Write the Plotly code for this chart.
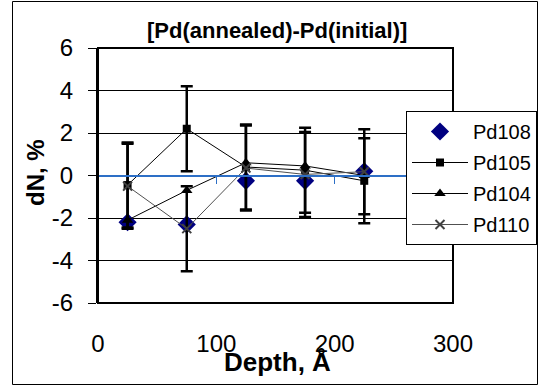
import plotly.graph_objects as go

depth = [25, 75, 125, 175, 225]
pd108 = [-2.2, -2.3, -0.25, -0.25, 0.2]
pd105 = [-0.45, 2.2, 0.4, 0.25, -0.25]
pd104 = [-2.1, -0.7, 0.6, 0.45, 0.0]
pd110 = [-0.5, -2.5, 0.35, 0.05, 0.18]
err105 = [2, 2, 2, 2, 2]
err110 = [2, 2, 2, 2, 2]
x_ticks = [0, 100, 200, 300]
y_ticks = [-6, -4, -2, 0, 2, 4, 6]
y_labels = ["-6", "-4", "-2", "0", "2", "4", "6"]

FONT = "Liberation Sans, Arial, sans-serif"

# plot area in pixels
L, R, T, B = 98, 453, 48, 303
W, H = 539, 388
pw, ph = R - L, B - T

def px(x):
    return (x - L) / pw

def py(y):
    return (B - y) / ph

fig = go.Figure()

fig.add_trace(go.Scatter(
    x=depth, y=pd108, name="Pd108", mode="markers",
    marker=dict(symbol="diamond", size=14, color="#000080"),
    legendgroup="a"))
fig.add_trace(go.Scatter(
    x=depth, y=pd105, name="Pd105", mode="lines+markers",
    line=dict(color="black", width=1),
    marker=dict(symbol="square", size=8, color="black"),
    error_y=dict(type="data", array=err105, visible=True, color="black", thickness=2.5, width=6),
    legendgroup="b"))
fig.add_trace(go.Scatter(
    x=depth, y=pd104, name="Pd104", mode="lines+markers",
    line=dict(color="black", width=1),
    marker=dict(symbol="triangle-up", size=10, color="black"),
    legendgroup="c"))
fig.add_trace(go.Scatter(
    x=depth, y=pd110, name="Pd110", mode="lines+markers",
    line=dict(color="#505050", width=1),
    marker=dict(symbol="x-thin", size=9, color="#404040", line=dict(width=2, color="#404040")),
    error_y=dict(type="data", array=err110, visible=True, color="black", thickness=2.5, width=6),
    legendgroup="d"))
# helper (empty) trace to activate the y=0 blue axis
fig.add_trace(go.Scatter(x=[], y=[], xaxis="x2", yaxis="y", showlegend=False, hoverinfo="skip"))

fig.update_layout(
    width=W, height=H,
    margin=dict(l=L, r=W - R, t=T, b=H - B, autoexpand=False),
    paper_bgcolor="white", plot_bgcolor="white",
    font=dict(family=FONT, color="black"),
    showlegend=True,
    legend=dict(
        x=px(406), y=py(111), xanchor="left", yanchor="top",
        bgcolor="white", bordercolor="black", borderwidth=1,
        font=dict(size=20, family=FONT), itemwidth=56,
        tracegroupgap=2,
    ),
    xaxis=dict(
        range=[0, 300], tickvals=x_ticks, ticks="", showline=False,
        showgrid=False, zeroline=False,
        tickfont=dict(size=24, family=FONT), ticklabelstandoff=24,
    ),
    xaxis2=dict(
        range=[0, 300], tickvals=x_ticks, overlaying="x", anchor="free", position=0.5,
        showline=True, linecolor="#2d6fc6", linewidth=1.5,
        ticks="outside", ticklen=8, tickcolor="#2d6fc6", tickwidth=1,
        showticklabels=False, showgrid=False, zeroline=False,
    ),
    yaxis=dict(
        range=[-6, 6], tickvals=y_ticks, ticktext=y_labels,
        showline=True, linecolor="black", linewidth=2,
        ticks="outside", ticklen=8, tickcolor="black", tickwidth=1,
        showgrid=True, gridcolor="black", gridwidth=1, zeroline=False,
        tickfont=dict(size=24, family=FONT), ticklabelstandoff=10,
    ),
    shapes=[
        dict(type="rect", xref="paper", yref="paper", x0=0, x1=1, y0=0, y1=1,
             line=dict(color="black", width=2), fillcolor="rgba(0,0,0,0)", layer="above"),
        dict(type="rect", xref="paper", yref="paper", x0=px(12.5), x1=px(537.5),
             y0=py(384.5), y1=py(1.5),
             line=dict(color="black", width=1), fillcolor="rgba(0,0,0,0)", layer="below"),
    ],
    annotations=[
        dict(text="<b>[Pd(annealed)-Pd(initial)]</b>", xref="paper", yref="paper",
             x=px(277), y=py(30), showarrow=False, font=dict(size=22, family=FONT),
             xanchor="center", yanchor="middle"),
        dict(text="<b>dN, %</b>", xref="paper", yref="paper",
             x=px(35), y=py(172), showarrow=False, textangle=-90,
             font=dict(size=24, family=FONT), xanchor="center", yanchor="middle"),
        dict(text="<b>Depth, Å</b>", xref="paper", yref="paper",
             x=px(277), y=py(362), showarrow=False,
             font=dict(size=26, family=FONT), xanchor="center", yanchor="middle"),
    ],
)

fig.write_html("out.html")
